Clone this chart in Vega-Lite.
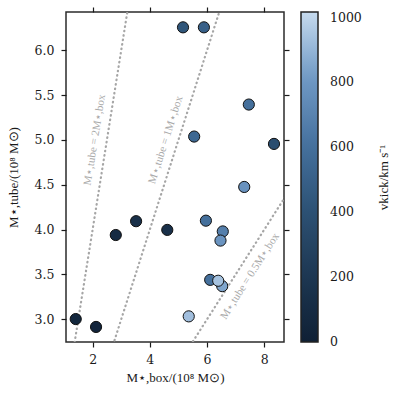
{
  "$schema": "https://vega.github.io/schema/vega-lite/v6.json",
  "width": 218,
  "height": 330,
  "autosize": {"type": "none"},
  "padding": {"left": 66, "top": 12, "right": 115, "bottom": 57},
  "config": {
    "view": {"stroke": "#2b2b2b", "strokeWidth": 1.5},
    "font": "DejaVu Serif",
    "axis": {
      "grid": false,
      "domain": false,
      "tickColor": "#1a1a1a",
      "tickSize": 5,
      "tickWidth": 1.2,
      "labelFont": "DejaVu Serif",
      "labelFontSize": 12.5,
      "labelColor": "#1a1a1a",
      "labelPadding": 3,
      "titleFont": "Liberation Serif",
      "titleFontSize": 13,
      "titleFontWeight": "normal",
      "titleColor": "#1a1a1a"
    }
  },
  "layer": [
    {
      "data": {"values": [
        {"ratio": "2", "x": 1.0, "y": 2.0},
        {"ratio": "2", "x": 3.5, "y": 7.0},
        {"ratio": "1", "x": 2.0, "y": 2.0},
        {"ratio": "1", "x": 7.0, "y": 7.0},
        {"ratio": "0.5", "x": 5.0, "y": 2.5},
        {"ratio": "0.5", "x": 9.0, "y": 4.5}
      ]},
      "mark": {"type": "line", "strokeDash": [0.5, 4], "strokeCap": "round", "strokeWidth": 2.2, "color": "#a6a6a6", "clip": true},
      "encoding": {
        "x": {"field": "x", "type": "quantitative", "scale": {"domain": [1.07, 8.69], "nice": false, "zero": false}, "axis": {"orient": "top", "labels": false, "title": null, "values": [2, 4, 6, 8]}},
        "y": {"field": "y", "type": "quantitative", "scale": {"domain": [2.747, 6.427], "nice": false, "zero": false}, "axis": {"orient": "right", "labels": false, "title": "vkick/km s⁻¹", "titleAngle": 270, "titleBaseline": "middle", "titlePadding": 94, "values": [3, 3.5, 4, 4.5, 5, 5.5, 6]}},
        "detail": {"field": "ratio"}
      }
    },
    {
      "data": {"values": [{"label": "M⋆,tube = 2M⋆,box", "x": 2.08, "y": 5.0}]},
      "mark": {"type": "text", "angle": -80.9, "color": "#aaaaaa", "font": "Liberation Serif", "fontSize": 11, "align": "center", "baseline": "middle"},
      "encoding": {
        "x": {"field": "x", "type": "quantitative", "axis": null},
        "y": {"field": "y", "type": "quantitative", "axis": null},
        "text": {"field": "label"}
      }
    },
    {
      "data": {"values": [{"label": "M⋆,tube = 1M⋆,box", "x": 4.56, "y": 5.0}]},
      "mark": {"type": "text", "angle": -72.3, "color": "#aaaaaa", "font": "Liberation Serif", "fontSize": 11, "align": "center", "baseline": "middle"},
      "encoding": {
        "x": {"field": "x", "type": "quantitative", "axis": null},
        "y": {"field": "y", "type": "quantitative", "axis": null},
        "text": {"field": "label"}
      }
    },
    {
      "data": {"values": [{"label": "M⋆,tube = 0.5M⋆,box", "x": 7.5, "y": 3.48}]},
      "mark": {"type": "text", "angle": -57.5, "color": "#aaaaaa", "font": "Liberation Serif", "fontSize": 11, "align": "center", "baseline": "middle"},
      "encoding": {
        "x": {"field": "x", "type": "quantitative", "axis": null},
        "y": {"field": "y", "type": "quantitative", "axis": null},
        "text": {"field": "label"}
      }
    },
    {
      "data": {"values": [
        {"m_box": 5.16, "m_tube": 6.256, "v_kick": 430},
        {"m_box": 5.89, "m_tube": 6.256, "v_kick": 500},
        {"m_box": 7.46, "m_tube": 5.395, "v_kick": 600},
        {"m_box": 5.55, "m_tube": 5.038, "v_kick": 550},
        {"m_box": 8.34, "m_tube": 4.956, "v_kick": 370},
        {"m_box": 7.30, "m_tube": 4.476, "v_kick": 780},
        {"m_box": 2.81, "m_tube": 3.94, "v_kick": 100},
        {"m_box": 3.52, "m_tube": 4.094, "v_kick": 140},
        {"m_box": 4.61, "m_tube": 3.997, "v_kick": 140},
        {"m_box": 5.96, "m_tube": 4.10, "v_kick": 600},
        {"m_box": 6.55, "m_tube": 3.98, "v_kick": 680},
        {"m_box": 6.47, "m_tube": 3.878, "v_kick": 790},
        {"m_box": 6.11, "m_tube": 3.44, "v_kick": 600},
        {"m_box": 6.53, "m_tube": 3.37, "v_kick": 850},
        {"m_box": 6.39, "m_tube": 3.43, "v_kick": 940},
        {"m_box": 5.36, "m_tube": 3.033, "v_kick": 930},
        {"m_box": 1.41, "m_tube": 3.003, "v_kick": 60},
        {"m_box": 2.12, "m_tube": 2.915, "v_kick": 40}
      ]},
      "mark": {"type": "circle", "size": 125, "opacity": 1, "stroke": "#111111", "strokeWidth": 1},
      "encoding": {
        "x": {"field": "m_box", "type": "quantitative", "axis": {"title": "M⋆,box/(10⁸ M⊙)", "values": [2, 4, 6, 8], "format": "d", "labelPadding": 6, "titlePadding": 6}},
        "y": {"field": "m_tube", "type": "quantitative", "axis": {"title": "M⋆,tube/(10⁸ M⊙)", "values": [3, 3.5, 4, 4.5, 5, 5.5, 6], "format": ".1f", "labelPadding": 7, "titlePadding": 14}},
        "color": {
          "field": "v_kick",
          "type": "quantitative",
          "scale": {"domain": [-0.5, 1017], "range": ["#0f2035", "#1d3752", "#2d5275", "#46729e", "#7099c5", "#c6dbef"]},
          "legend": {
            "title": null,
            "orient": "none",
            "legendX": 235,
            "legendY": 0,
            "padding": 0,
            "gradientLength": 330,
            "gradientThickness": 17,
            "values": [0, 200, 400, 600, 800, 1000],
            "format": "d",
            "labelFont": "DejaVu Serif",
            "labelFontSize": 12.5,
            "labelColor": "#1a1a1a",
            "labelOffset": 12,
            "labelBaseline": "middle",
            "gradientStrokeColor": "#222222",
            "gradientStrokeWidth": 1.5
          }
        }
      }
    }
  ],
  "resolve": {"axis": {"x": "independent", "y": "independent"}}
}
